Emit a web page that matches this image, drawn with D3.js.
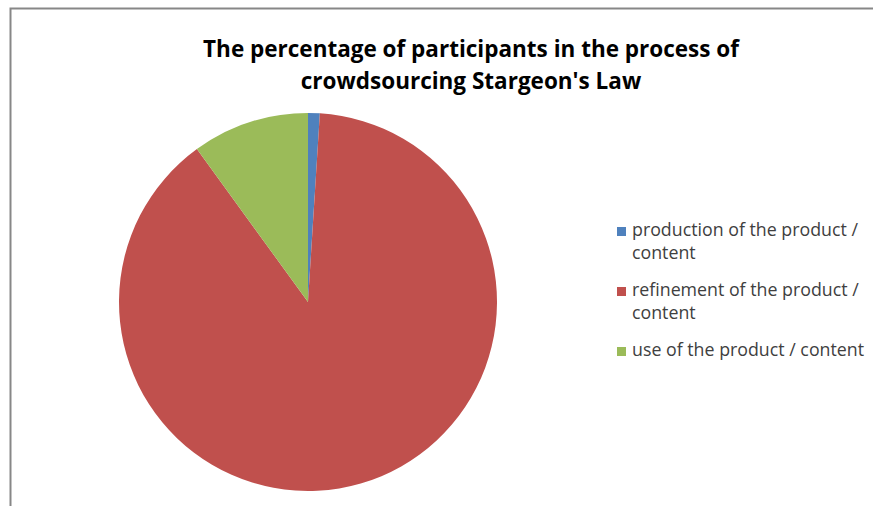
<!DOCTYPE html>
<html>
<head>
<meta charset="utf-8">
<script src="https://d3js.org/d3.v7.min.js"></script>
<style>
  body { margin: 0; background: #fff; }
  svg { display: block; }
</style>
</head>
<body>
<svg id="chart" width="873" height="506"></svg>
<script>
// chart data
const categories = ["production of the product / content", "refinement of the product / content", "use of the product / content"];
const values = [1, 89, 10];
const colors = ["#4F81BD", "#C0504D", "#9BBB59"];
const titleLines = ["The percentage of participants in the process of", "crowdsourcing Stargeon's Law"];
// legend labels as they wrap in the picture
const legendLines = [["production of the product /", "content"], ["refinement of the product /", "content"], ["use of the product / content"]];

const svg = d3.select("#chart");

// outer frame (runs off the right and bottom of the picture)
svg.append("path")
    .attr("d", "M10.5,506 V8.5 H873")
    .attr("fill", "none")
    .attr("stroke", "#878787")
    .attr("stroke-width", 2);

// title
svg.append("g")
    .selectAll("text")
    .data(titleLines)
    .join("text")
    .attr("x", 471)
    .attr("y", (d, i) => 57 + i * 32)
    .attr("text-anchor", "middle")
    .attr("font-family", "'Open Sans', sans-serif")
    .attr("font-weight", "bold")
    .attr("font-size", 22.5)
    .attr("fill", "#000")
    .text(d => d);

// pie
const pie = d3.pie().sort(null).value(d => d);
const arc = d3.arc().innerRadius(0).outerRadius(189);

svg.append("g")
    .attr("transform", "translate(308,302)")
    .selectAll("path")
    .data(pie(values))
    .join("path")
    .attr("d", arc)
    .attr("fill", (d, i) => colors[i]);

// legend
const legend = svg.append("g")
    .selectAll("g")
    .data(categories)
    .join("g")
    .attr("transform", (d, i) => `translate(617,${236 + i * 60})`);

legend.append("rect")
    .attr("y", -9)
    .attr("width", 9)
    .attr("height", 9)
    .attr("fill", (d, i) => colors[i]);

legend.append("text")
    .attr("font-family", "'Open Sans', sans-serif")
    .attr("font-size", 17.8)
    .attr("fill", "#404040")
    .selectAll("tspan")
    .data((d, i) => legendLines[i])
    .join("tspan")
    .attr("x", 15)
    .attr("y", (d, j) => j * 23)
    .text(d => d);
</script>
</body>
</html>
